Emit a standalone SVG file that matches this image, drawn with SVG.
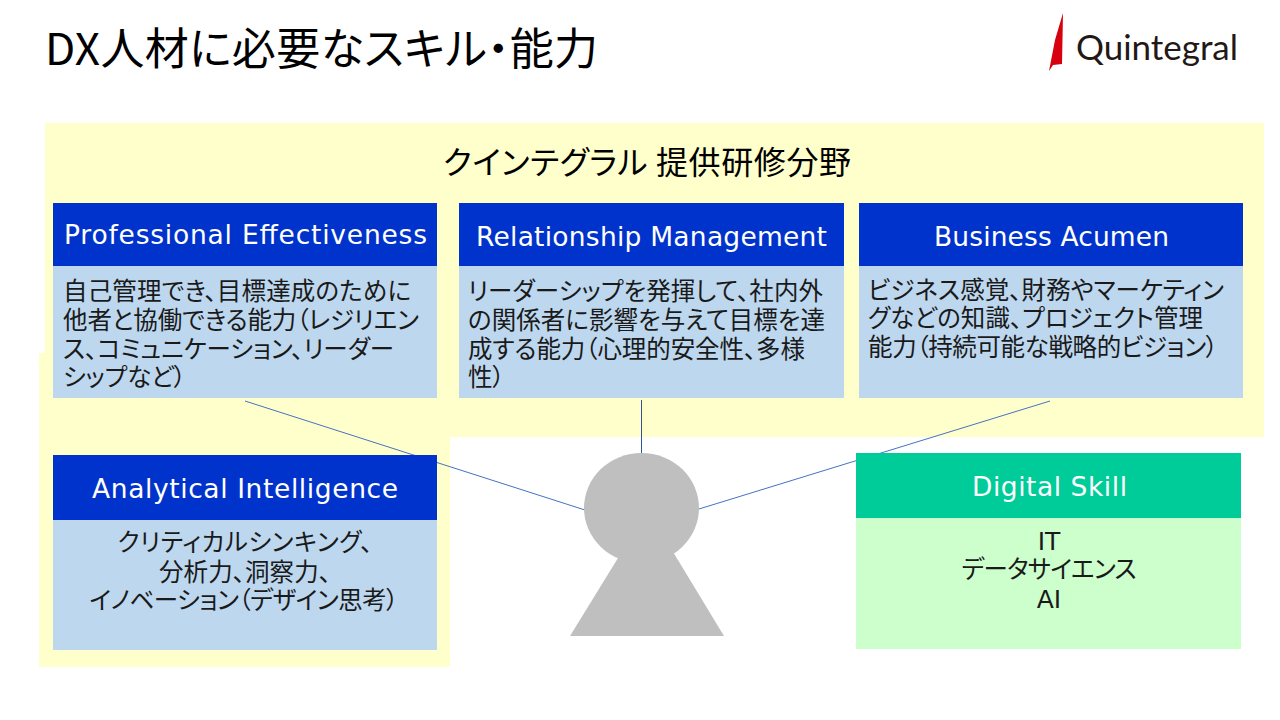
<svg xmlns="http://www.w3.org/2000/svg" width="1280" height="720" viewBox="0 0 1280 720">
<style>
text{font-family:"Noto Sans CJK JP","Noto Sans",sans-serif;fill:#1a1a1a;font-feature-settings:"palt"}
.h{font-family:"DejaVu Sans",sans-serif;font-size:26.500px;fill:#fff;text-anchor:middle}
.b{font-size:24.500px}
.c{font-size:24.500px;text-anchor:middle}
.l{font-family:"DejaVu Sans",sans-serif;font-size:25px;text-anchor:middle}
.head{fill:#0033cc}.body{fill:#bdd7ee}
.conn{stroke:#4472c4;stroke-width:1;fill:none}
</style>
<rect width="1280" height="720" fill="#fff"/>
<g id="background"><rect x="45" y="123" width="1219" height="314" fill="#ffffcc"/><rect x="39" y="353" width="411" height="314" fill="#ffffcc"/></g>
<text id="title" x="45" y="65" font-size="44" textLength="553" style="fill:#000">DX人材に必要なスキル・能力</text>
<g id="logo"><polygon points="1063,13 1062,64 1053,65 1049,71 1055,40" fill="#d7000f"/><text x="1076" y="60" font-size="35" textLength="162" style="fill:#231815;font-family:Lato,sans-serif">Quintegral</text></g>
<text id="band-title" x="647" y="174" font-size="32" text-anchor="middle" textLength="408" style="fill:#000">クインテグラル 提供研修分野</text>
<g id="connectors" class="conn"><line x1="245" y1="401" x2="585" y2="510"/><line x1="641.500" y1="400" x2="641.500" y2="454" stroke="#2f5597"/><line x1="1050" y1="401" x2="699" y2="509"/></g>
<g id="professional"><rect class="body" x="53" y="266" width="384" height="132"/><rect class="head" x="53" y="203" width="384" height="63"/><text class="h" x="245.500" y="244" textLength="363">Professional Effectiveness</text>
<text class="b" x="63" y="300" textLength="348">自己管理でき、目標達成のために</text><text class="b" x="63" y="329" textLength="356">他者と協働できる能力（レジリエン</text><text class="b" x="63" y="358" textLength="331">ス、コミュニケーション、リーダー</text><text class="b" x="63" y="386" textLength="123">シップなど）</text></g>
<g id="relationship"><rect class="body" x="459" y="266" width="385" height="132"/><rect class="head" x="459" y="203" width="385" height="63"/><text class="h" x="651.500" y="246" textLength="351">Relationship Management</text>
<text class="b" x="468" y="300" textLength="355">リーダーシップを発揮して、社内外</text><text class="b" x="468" y="329" textLength="357">の関係者に影響を与えて目標を達</text><text class="b" x="468" y="358" textLength="337">成する能力（心理的安全性、多様</text><text class="b" x="468" y="386">性）</text></g>
<g id="business"><rect class="body" x="859" y="266" width="384" height="132"/><rect class="head" x="859" y="203" width="384" height="63"/><text class="h" x="1051.500" y="246" textLength="235">Business Acumen</text>
<text class="b" x="868" y="299" textLength="356">ビジネス感覚、財務やマーケティン</text><text class="b" x="868" y="327" textLength="335">グなどの知識、プロジェクト管理</text><text class="b" x="868" y="356" textLength="350">能力（持続可能な戦略的ビジョン）</text></g>
<g id="analytical"><rect class="body" x="53" y="520" width="384" height="130"/><rect class="head" x="53" y="455" width="384" height="65"/><text class="h" x="245" y="498" textLength="306">Analytical Intelligence</text>
<text class="c" x="245" y="551" textLength="255">クリティカルシンキング、</text><text class="c" x="245" y="581" textLength="172">分析力、洞察力、</text><text class="c" x="244" y="609" textLength="309">イノベーション（デザイン思考）</text></g>
<g id="digital"><rect x="856" y="518" width="385" height="131" fill="#ccffcc"/><rect x="856" y="453" width="385" height="65" fill="#00cc99"/><text class="h" x="1049.500" y="496" textLength="155">Digital Skill</text>
<text class="l" x="1049" y="550">IT</text><text class="c" x="1049" y="578" textLength="175">データサイエンス</text><text class="l" x="1049" y="608">AI</text></g>
<g id="person" fill="#bfbfbf"><ellipse cx="641.500" cy="508" rx="57.500" ry="55"/><polygon points="618,558 674,553.500 724,636 570,636"/></g>
</svg>
